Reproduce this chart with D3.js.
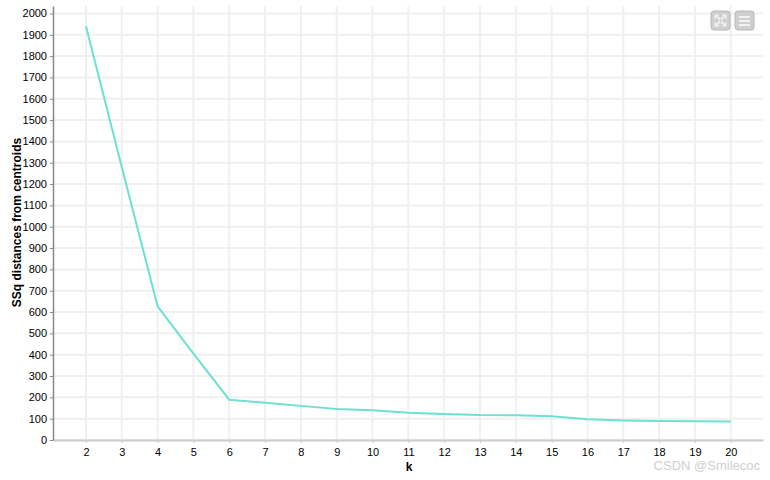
<!DOCTYPE html>
<html><head><meta charset="utf-8">
<script src="https://cdn.jsdelivr.net/npm/d3@7"></script>
<style>
html,body{margin:0;padding:0;background:#fff;}
svg{display:block;font-family:Arial,"Liberation Sans",sans-serif;}
</style></head>
<body><svg id="chart" width="770" height="480"></svg>
<script>
const kValues = [2,3,4,5,6,7,8,9,10,11,12,13,14,15,16,17,18,19,20];
const ssqValues = [1940,1280,627,405,189,175,160,145,139,128,122,117,116,111,97,92,89,88,87];
const yTicks = d3.range(0, 2001, 100);
const xLabel = "k";
const yLabel = "SSq distances from centroids";
const watermark = "CSDN @Smilecoc";

(function(){
const svg = d3.select("#chart");
const pLeft = 53, pRight = 763, pTop = 6, pBottom = 440;
const x = d3.scaleLinear().domain([1.08, 20.9]).range([pLeft, pRight]);
const y = d3.scaleLinear().domain([0, 2035]).range([pBottom, pTop]);

// grid
const grid = svg.append("g");
grid.selectAll(".h").data(yTicks).join("line")
  .attr("x1", pLeft).attr("x2", pRight)
  .attr("y1", d => y(d)).attr("y2", d => y(d))
  .attr("stroke", "#f0f0f0").attr("stroke-width", 2);
grid.selectAll(".v").data(kValues).join("line")
  .attr("x1", d => x(d)).attr("x2", d => x(d))
  .attr("y1", pTop).attr("y2", pBottom)
  .attr("stroke", "#f0f0f0").attr("stroke-width", 2);

// x axis
const xAxis = svg.append("g").attr("transform", `translate(0,${pBottom})`)
  .call(d3.axisBottom(x).tickValues(kValues).tickFormat(d3.format("d")).tickSize(3).tickSizeOuter(0).tickPadding(5));
xAxis.select(".domain").attr("stroke", "#cccccc").attr("stroke-width", 2);
xAxis.selectAll(".tick line").attr("stroke", "#cccccc");
xAxis.selectAll("text").attr("font-size", 11).attr("fill", "#000").attr("font-family", "Arial,'Liberation Sans',sans-serif");

// y axis
const yAxis = svg.append("g").attr("transform", `translate(${pLeft},0)`)
  .call(d3.axisLeft(y).tickValues(yTicks).tickFormat(d3.format("d")).tickSize(3).tickSizeOuter(0).tickPadding(3));
yAxis.select(".domain").attr("stroke", "#888").attr("stroke-width", 1.5);
yAxis.selectAll(".tick line").attr("stroke", "#888");
yAxis.selectAll("text").attr("font-size", 11).attr("fill", "#000").attr("font-family", "Arial,'Liberation Sans',sans-serif");

// line
const line = d3.line().x((d, i) => x(kValues[i])).y(d => y(d));
svg.append("path").datum(ssqValues)
  .attr("d", line).attr("fill", "none")
  .attr("stroke", "#6ce1d3").attr("stroke-width", 2);

// labels
svg.append("text").attr("x", 409).attr("y", 471).attr("text-anchor", "middle")
  .attr("font-weight", "bold").attr("font-size", 12).text(xLabel);
svg.append("text").attr("transform", "translate(21,222.5) rotate(-90)")
  .attr("text-anchor", "middle").attr("font-weight", "bold").attr("font-size", 12).text(yLabel);

// watermark
svg.append("text").attr("x", 760).attr("y", 470).attr("text-anchor", "end")
  .attr("font-size", 13).attr("fill", "#d0d0d0").text(watermark);

// toolbar icons
const tb = svg.append("g");
[[711,11],[735,11]].forEach(([bx,by], i) => {
  tb.append("rect").attr("x", bx).attr("y", by).attr("width", 19).attr("height", 19)
    .attr("rx", 3).attr("fill", "#cfcfcf").attr("stroke", "#b8b8b8");
  if (i === 1) {
    [5,9,13].forEach(dy => tb.append("rect").attr("x", bx+4).attr("y", by+dy)
      .attr("width", 11).attr("height", 2).attr("fill", "#f2f2f2"));
  } else {
    const g = tb.append("g").attr("fill", "#f2f2f2");
    const c = [[1,1],[-1,1],[1,-1],[-1,-1]];
    const cx = bx + 9.5, cy = by + 9.5;
    c.forEach(([sx, sy]) => {
      g.append("path").attr("d",
        `M${cx - sx*6},${cy - sy*6} l${sx*5},0 l${-sx*5},${sy*5} z`);
      g.append("path").attr("d",
        `M${cx - sx*4},${cy - sy*3} l${sx*2},${-sy*1} l${sx*2},${sy*2} l${-sx*1},${sy*2} z`);
    });
  }
});
})();
</script></body></html>
